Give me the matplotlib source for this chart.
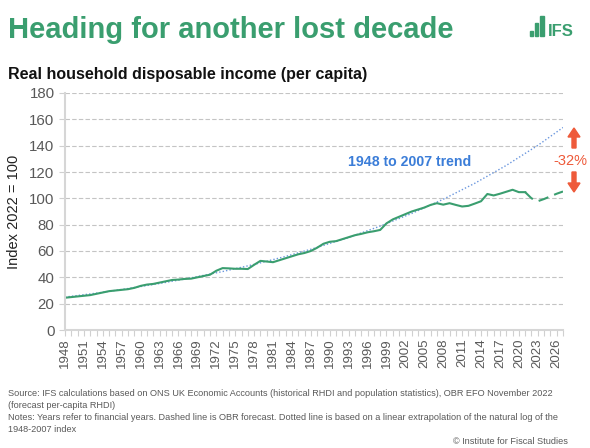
import numpy as np
import matplotlib
matplotlib.use("Agg")
import matplotlib.pyplot as plt
from matplotlib.patches import Rectangle, FancyArrow

plt.rcParams['font.family'] = ['Liberation Sans', 'DejaVu Sans']

# real household disposable income per capita, index 2022 = 100
years_actual = list(range(1948, 2022))
rhdi_actual = [24.5, 25.0, 25.5, 26.0, 26.5, 27.5, 28.5, 29.5, 30.0, 30.5,
               31.0, 32.0, 33.5, 34.5, 35.0, 36.0, 37.0, 38.0, 38.3, 38.8,
               39.0, 40.0, 41.0, 42.0, 45.0, 47.0, 46.8, 46.5, 46.5, 46.3,
               49.5, 52.5, 52.0, 51.5, 53.0, 54.5, 56.0, 57.5, 58.5, 60.0,
               62.5, 65.5, 67.0, 67.5, 69.0, 70.5, 72.0, 73.0, 74.2, 75.0,
               76.0, 81.0, 84.0, 86.0, 88.0, 90.0, 91.5, 93.0, 95.0, 96.3,
               95.2, 96.3, 95.0, 93.8, 94.3, 96.0, 97.8, 103.3, 102.2, 103.5,
               105.0, 106.5, 104.7, 104.7]

# OBR forecast
years_fcst = list(range(2021, 2028))
rhdi_fcst = [104.7, 100.0, 97.8, 99.5, 101.5, 103.5, 105.2]

# 1948-2007 log-linear trend
years_trend = [1948, 1953, 1958, 1963, 1968, 1973, 1978, 1983, 1988,
               1993, 1998, 2003, 2008, 2013, 2018, 2023, 2027]
rhdi_trend = [25.0, 28.0, 31.5, 35.3, 39.6, 44.4, 49.8, 55.9, 62.7,
              70.3, 78.9, 88.5, 99.3, 111.4, 125.0, 140.2, 153.8]

green = '#3a9e6f'
grey = '#595959'
W, H = 590, 448

fig = plt.figure(figsize=(W / 100, H / 100), dpi=100)

def fx(x):
    return x / W

def fy(y):
    return 1 - y / H

ax = fig.add_axes([fx(65), fy(330), fx(563) - fx(65), fy(93) - fy(330)])

ax.plot(years_trend, rhdi_trend, color='#6b97de', lw=1.0, ls=(0, (1, 1.5)))
ax.plot(years_actual, rhdi_actual, color=green, lw=1.5)
ax.plot(years_fcst, rhdi_fcst, color=green, lw=1.5, ls=(0, (5, 3)))

ax.set_xlim(1948, 2027)
ax.set_ylim(0, 180)
ax.set_yticks(range(0, 181, 20))
ax.set_xticks(range(1948, 2028))
ax.set_xticklabels([str(y) if (y - 1948) % 3 == 0 else '' for y in range(1948, 2028)],
                   rotation=90, fontsize=9.5, color=grey)
ax.tick_params(axis='y', labelsize=10.8, labelcolor=grey, color='#d0d0d0', length=4, width=0.8)
ax.tick_params(axis='x', color='#d0d0d0', length=4, width=0.8, pad=2)

for v in range(20, 181, 20):
    ax.axhline(v, color='#c4c4c4', lw=0.8, ls=(0, (4, 2)), zorder=0)

for s in ['top', 'right']:
    ax.spines[s].set_visible(False)
for s in ['left', 'bottom']:
    ax.spines[s].set_color('#d6d6d6')
    ax.spines[s].set_linewidth(1.5)

ax.set_ylabel('Index 2022 = 100', fontsize=10.5, color='#222222', labelpad=6)

fig.text(fx(410), fy(162), '1948 to 2007 trend', color='#3b7dd8', fontsize=10.2,
         fontweight='bold', ha='center', va='center')

# titles
fig.text(fx(8), fy(38), 'Heading for another lost decade', color=green,
         fontsize=21, fontweight='bold', ha='left', va='baseline')
fig.text(fx(8), fy(79), 'Real household disposable income (per capita)',
         color='#111111', fontsize=11.5, fontweight='bold', ha='left', va='baseline')

# IFS logo
for bx, bh in [(529.5, 5), (534.5, 13), (540, 20)]:
    fig.patches.append(Rectangle((fx(bx), fy(36)), fx(3.6), bh / H,
                                 transform=fig.transFigure, color=green))
fig.text(fx(548), fy(36), 'IFS', color=green, fontsize=12, fontweight='bold',
         family=['Liberation Sans Narrow', 'Liberation Sans'], ha='left', va='baseline')

# gap between trend and forecast
red = '#ee5a3a'
fig.add_artist(FancyArrow(574 / 100, (H - 148) / 100, 0, 20 / 100, width=0.04,
                          head_width=0.12, head_length=0.09, length_includes_head=True,
                          color=red, transform=fig.dpi_scale_trans))
fig.add_artist(FancyArrow(574 / 100, (H - 172) / 100, 0, -20 / 100, width=0.04,
                          head_width=0.12, head_length=0.09, length_includes_head=True,
                          color=red, transform=fig.dpi_scale_trans))
fig.text(fx(553), fy(161), '-32%', color=red, fontsize=10.5, ha='left', va='center')

# notes
notes = ['Source: IFS calculations based on ONS UK Economic Accounts (historical RHDI and population statistics), OBR EFO November 2022',
         '(forecast per-capita RHDI)',
         'Notes: Years refer to financial years. Dashed line is OBR forecast. Dotted line is based on a linear extrapolation of the natural log of the',
         '1948-2007 index']
for i, line in enumerate(notes):
    fig.text(fx(8), fy(393 + 12 * i), line, color=grey, fontsize=6.6, ha='left', va='center')
fig.text(fx(568), fy(441), '\u00a9 Institute for Fiscal Studies', color=grey,
         fontsize=6.6, ha='right', va='center')

fig.savefig('out.png', dpi=100)
